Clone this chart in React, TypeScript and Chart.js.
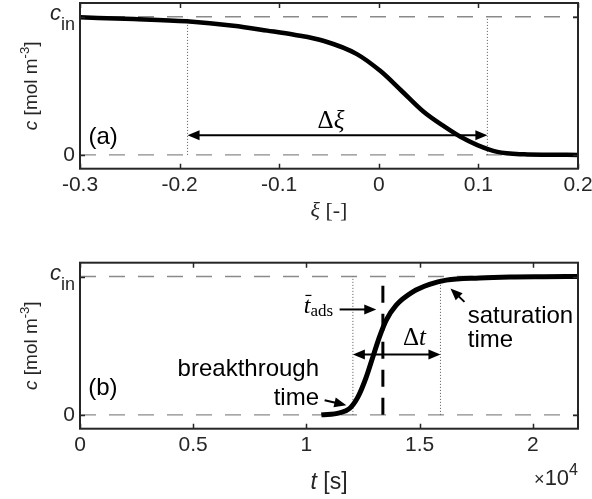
import React, { useEffect, useRef } from 'react';
import { Chart, registerables } from 'chart.js';
Chart.register(...registerables);

const SANS = '"Liberation Sans", Arial, Helvetica, sans-serif';
const SERIF = '"Liberation Serif", "Times New Roman", serif';
const INK = '#262626';

// ---------- shared
const cLevels = [0, 1];
const cRange = [-0.1, 1.1];

// ---------- panel (a): concentration profile vs xi
const xiValues = [-0.3, -0.246, -0.193, -0.146, -0.112, -0.085, -0.055, -0.022, 0.002, 0.022, 0.045, 0.066, 0.082, 0.099, 0.119, 0.146, 0.17, 0.2];
const cProfile = [0.996, 0.984, 0.967, 0.935, 0.9, 0.87, 0.825, 0.73, 0.605, 0.47, 0.312, 0.204, 0.131, 0.071, 0.022, 0.004, 0.001, 0];
const xiTicks = [-0.3, -0.2, -0.1, 0, 0.1, 0.2];
const xiRange = [-0.3, 0.2];
const xiMarkers = [-0.192, 0.109];
const deltaXiArrow = { x1: -0.192, x2: 0.109, y: 0.143 };
const deltaXiLabel = { x: -0.048, y: 0.194 };
const panelALabel = { x: -0.2915, y: 0.078 };

// ---------- panel (b): breakthrough curve vs t [s]
const tValues = [10660, 11470, 11910, 12280, 12650, 12940, 13230, 13530, 13970, 14700, 15440, 16180, 17650, 19000, 20500, 22000];
const cBreakthrough = [0, 0.015, 0.046, 0.13, 0.275, 0.42, 0.564, 0.685, 0.793, 0.889, 0.943, 0.974, 0.99, 0.997, 0.999, 1.0];
const tTicks = [0, 5000, 10000, 15000, 20000];
const tRange = [0, 22000];
const tMarkers = [12056, 15924];
const tAds = 13380;
const deltaTArrow = { x1: 12056, x2: 15924, y: 0.437 };
const deltaTLabel = { x: 14777, y: 0.504 };
const tAdsArrow = { x1: 11469, y1: 0.762, x2: 13088, y2: 0.762 };
const tAdsLabel = { x: 10533, y: 0.735 };
const breakArrow = { x1: 10807, y1: 0.106, x2: 11765, y2: 0.07 };
const breakLabel = { x: 10560, y1: 0.28, y2: 0.07 };
const satArrow = { x1: 16985, y1: 0.817, x2: 16367, y2: 0.914 };
const satLabel = { x: 17130, y1: 0.663, y2: 0.492 };
const panelBLabel = { x: 366, y: 0.147 };

// ---------- drawing helpers
type Seg = { t: string; size: number; fam: string; style?: string; dy?: number; bar?: boolean };

function drawSegs(ctx: CanvasRenderingContext2D, segs: Seg[], x: number, y: number, align: string) {
  ctx.textAlign = 'left';
  ctx.textBaseline = 'alphabetic';
  const fontOf = (s: Seg) => `${s.style || 'normal'} ${s.size}px ${s.fam}`;
  const ws = segs.map((s) => {
    ctx.font = fontOf(s);
    return ctx.measureText(s.t).width;
  });
  const total = ws.reduce((p, c) => p + c, 0);
  let cx = align === 'left' ? x : align === 'right' ? x - total : x - total / 2;
  segs.forEach((s, i) => {
    ctx.font = fontOf(s);
    ctx.fillText(s.t, cx, y + (s.dy || 0));
    if (s.bar) {
      const by = y + (s.dy || 0) - s.size * 0.74;
      ctx.save();
      ctx.lineWidth = 1.2;
      ctx.strokeStyle = ctx.fillStyle as string;
      ctx.beginPath();
      ctx.moveTo(cx + ws[i] * 0.25, by);
      ctx.lineTo(cx + ws[i] * 1.15, by);
      ctx.stroke();
      ctx.restore();
    }
    cx += ws[i];
  });
}

function drawArrow(ctx: CanvasRenderingContext2D, x1: number, y1: number, x2: number, y2: number, both: boolean) {
  const L = 12;
  const W = 5;
  const a = Math.atan2(y2 - y1, x2 - x1);
  const c = Math.cos(a);
  const s = Math.sin(a);
  const head = (hx: number, hy: number, dc: number, ds: number) => {
    ctx.beginPath();
    ctx.moveTo(hx, hy);
    ctx.lineTo(hx - L * dc + W * ds, hy - L * ds - W * dc);
    ctx.lineTo(hx - L * dc - W * ds, hy - L * ds + W * dc);
    ctx.closePath();
    ctx.fill();
  };
  const sx = both ? x1 + (L - 2) * c : x1;
  const sy = both ? y1 + (L - 2) * s : y1;
  ctx.beginPath();
  ctx.moveTo(sx, sy);
  ctx.lineTo(x2 - (L - 2) * c, y2 - (L - 2) * s);
  ctx.stroke();
  head(x2, y2, c, s);
  if (both) head(x1, y1, -c, -s);
}

const annotPlugin = {
  id: 'annot',
  afterDatasetsDraw(chart: any, _args: any, opts: any) {
    const { ctx, scales } = chart;
    const xs = scales.x;
    const ys = scales.y;
    ctx.save();
    ctx.fillStyle = '#000';
    ctx.strokeStyle = '#000';
    ctx.lineWidth = 2;
    for (const ar of opts.arrows || []) {
      drawArrow(ctx, xs.getPixelForValue(ar.x1), ys.getPixelForValue(ar.y1), xs.getPixelForValue(ar.x2), ys.getPixelForValue(ar.y2), !!ar.both);
    }
    for (const tx of opts.texts || []) {
      drawSegs(ctx, tx.segs, xs.getPixelForValue(tx.x), ys.getPixelForValue(tx.y), tx.align);
    }
    ctx.restore();
  },
  afterDraw(chart: any, _args: any, opts: any) {
    const { ctx, chartArea: a, scales } = chart;
    ctx.save();
    ctx.strokeStyle = INK;
    ctx.fillStyle = INK;
    ctx.lineWidth = 1.5;
    ctx.beginPath();
    for (const t of scales.x.ticks) {
      const px = Math.round(scales.x.getPixelForValue(t.value)) + 0.5;
      ctx.moveTo(px, a.bottom);
      ctx.lineTo(px, a.bottom - 5);
      ctx.moveTo(px, a.top);
      ctx.lineTo(px, a.top + 5);
    }
    for (const t of scales.y.ticks) {
      const py = Math.round(scales.y.getPixelForValue(t.value)) + 0.5;
      ctx.moveTo(a.left, py);
      ctx.lineTo(a.left + 5, py);
      ctx.moveTo(a.right, py);
      ctx.lineTo(a.right - 5, py);
    }
    ctx.stroke();
    ctx.lineWidth = 2;
    ctx.strokeRect(a.left, a.top, a.right - a.left, a.bottom - a.top);

    // c_in tick label
    const y1 = scales.y.getPixelForValue(1);
    drawSegs(ctx, [
      { t: 'c', size: 22, fam: SANS, style: 'italic' },
      { t: 'in', size: 18, fam: SANS, dy: 10 },
    ], a.left - 5, y1 + 3, 'right');

    // y title
    ctx.save();
    ctx.translate(37, (a.top + a.bottom) / 2);
    ctx.rotate(-Math.PI / 2);
    drawSegs(ctx, [
      { t: 'c', size: 19, fam: SANS, style: 'italic' },
      { t: ' [mol m', size: 19, fam: SANS },
      { t: '-3', size: 13, fam: SANS, dy: -8 },
      { t: ']', size: 19, fam: SANS },
    ], 0, 0, 'center');
    ctx.restore();

    // x title
    drawSegs(ctx, opts.xTitle, (a.left + a.right) / 2, a.bottom + opts.xTitleOffset, 'center');
    if (opts.exponent) {
      drawSegs(ctx, [
        { t: '\u00d7', size: 18, fam: SANS },
        { t: '10', size: 22, fam: SANS },
        { t: '4', size: 16, fam: SANS, dy: -10 },
      ], a.right, a.bottom + opts.exponentOffset, 'right');
    }
    ctx.restore();
  },
};

function lineDs(xs: number[], ys: number[], color: string, width: number, dash: number[], order: number, smooth = false) {
  return {
    data: xs.map((x, i) => ({ x, y: ys[i] })),
    borderColor: color,
    borderWidth: width,
    borderDash: dash,
    borderCapStyle: 'butt',
    borderJoinStyle: 'round',
    pointRadius: 0,
    fill: false,
    order,
    cubicInterpolationMode: smooth ? 'monotone' : 'default',
  };
}

function makeOptions(range: number[], ticks: number[], fmt: (v: number) => string, padTop: number, axisH: number, annot: any) {
  return {
    animation: false,
    responsive: false,
    maintainAspectRatio: false,
    events: [],
    layout: { padding: { top: padTop, right: 14, left: 0, bottom: 0 } },
    plugins: { legend: { display: false }, tooltip: { enabled: false }, annot },
    scales: {
      x: {
        type: 'linear',
        min: range[0],
        max: range[1],
        grid: { display: false, drawTicks: false },
        border: { display: false },
        afterBuildTicks: (s: any) => { s.ticks = ticks.map((v) => ({ value: v })); },
        afterFit: (s: any) => { s.height = axisH; s.paddingLeft = 0; s.paddingRight = 0; },
        ticks: { callback: (v: any) => fmt(Number(v)), color: INK, font: { family: SANS, size: 21 }, padding: 4, maxRotation: 0, autoSkip: false },
      },
      y: {
        type: 'linear',
        min: cRange[0],
        max: cRange[1],
        grid: { display: false, drawTicks: false },
        border: { display: false },
        afterBuildTicks: (s: any) => { s.ticks = cLevels.map((v) => ({ value: v })); },
        afterFit: (s: any) => { s.width = 80; s.paddingTop = 0; s.paddingBottom = 0; },
        ticks: { callback: (v: any) => (Number(v) === 0 ? '0' : ''), color: INK, font: { family: SANS, size: 21 }, padding: 5 },
      },
    },
  };
}

function configA(): any {
  const datasets: any[] = [lineDs(xiValues, cProfile, '#000', 4.5, [], 0, true)];
  xiMarkers.forEach((m) => datasets.push(lineDs([m, m], cLevels, '#555', 1, [1, 2], 2)));
  cLevels.forEach((lv) => datasets.push(lineDs(xiRange, [lv, lv], '#8a8a8a', 1.4, [16, 13], 3)));
  const annot = {
    arrows: [{ x1: deltaXiArrow.x1, y1: deltaXiArrow.y, x2: deltaXiArrow.x2, y2: deltaXiArrow.y, both: true }],
    texts: [
      { x: panelALabel.x, y: panelALabel.y, align: 'left', segs: [{ t: '(a)', size: 24, fam: SANS }] },
      { x: deltaXiLabel.x, y: deltaXiLabel.y, align: 'center', segs: [{ t: '\u0394', size: 25, fam: SERIF }, { t: '\u03be', size: 25, fam: SERIF, style: 'italic' }] },
    ],
    xTitle: [{ t: '\u03be', size: 22, fam: SERIF, style: 'italic' }, { t: ' [-]', size: 22, fam: SERIF }],
    xTitleOffset: 48,
    exponent: false,
  };
  return {
    type: 'line',
    data: { datasets },
    options: makeOptions(xiRange, xiTicks, (v) => { const r = Math.round(v * 10) / 10; return r === 0 ? '0' : String(r); }, 3, 81.3, annot),
    plugins: [annotPlugin],
  };
}

function configB(): any {
  const datasets: any[] = [lineDs(tValues, cBreakthrough, '#000', 5, [], 0, true)];
  datasets.push(lineDs([tAds, tAds], cLevels, '#000', 3, [17, 11], 1));
  tMarkers.forEach((m) => datasets.push(lineDs([m, m], cLevels, '#555', 1, [1, 2], 2)));
  cLevels.forEach((lv) => datasets.push(lineDs(tRange, [lv, lv], '#8a8a8a', 1.4, [16, 13], 3)));
  const annot = {
    arrows: [
      { x1: deltaTArrow.x1, y1: deltaTArrow.y, x2: deltaTArrow.x2, y2: deltaTArrow.y, both: true },
      { ...tAdsArrow },
      { ...breakArrow },
      { ...satArrow },
    ],
    texts: [
      { x: panelBLabel.x, y: panelBLabel.y, align: 'left', segs: [{ t: '(b)', size: 24, fam: SANS }] },
      { x: deltaTLabel.x, y: deltaTLabel.y, align: 'center', segs: [{ t: '\u0394', size: 25, fam: SERIF }, { t: 't', size: 25, fam: SERIF, style: 'italic' }] },
      { x: tAdsLabel.x, y: tAdsLabel.y, align: 'center', segs: [{ t: 't', size: 24, fam: SERIF, style: 'italic', bar: true }, { t: 'ads', size: 17, fam: SERIF, dy: 3 }] },
      { x: breakLabel.x, y: breakLabel.y1, align: 'right', segs: [{ t: 'breakthrough', size: 24, fam: SANS }] },
      { x: breakLabel.x, y: breakLabel.y2, align: 'right', segs: [{ t: 'time', size: 24, fam: SANS }] },
      { x: satLabel.x, y: satLabel.y1, align: 'left', segs: [{ t: 'saturation', size: 24, fam: SANS }] },
      { x: satLabel.x, y: satLabel.y2, align: 'left', segs: [{ t: 'time', size: 24, fam: SANS }] },
    ],
    xTitle: [{ t: 't', size: 23, fam: SANS, style: 'italic' }, { t: ' [s]', size: 23, fam: SANS }],
    xTitleOffset: 60,
    exponent: true,
    exponentOffset: 56,
  };
  return {
    type: 'line',
    data: { datasets },
    options: makeOptions(tRange, tTicks, (v) => String(Math.round(v / 1000) / 10), 12.7, 70.3, annot),
    plugins: [annotPlugin],
  };
}

export default function App() {
  const refA = useRef<HTMLCanvasElement>(null);
  const refB = useRef<HTMLCanvasElement>(null);
  useEffect(() => {
    const a = new Chart(refA.current as HTMLCanvasElement, configA());
    const b = new Chart(refB.current as HTMLCanvasElement, configB());
    return () => {
      a.destroy();
      b.destroy();
    };
  }, []);
  return (
    <div style={{ position: 'absolute', left: 0, top: 0, width: 592, height: 499, background: '#fff' }}>
      <canvas ref={refA} width={592} height={250} style={{ position: 'absolute', left: 0, top: 0 }} />
      <canvas ref={refB} width={592} height={249} style={{ position: 'absolute', left: 0, top: 250 }} />
    </div>
  );
}
